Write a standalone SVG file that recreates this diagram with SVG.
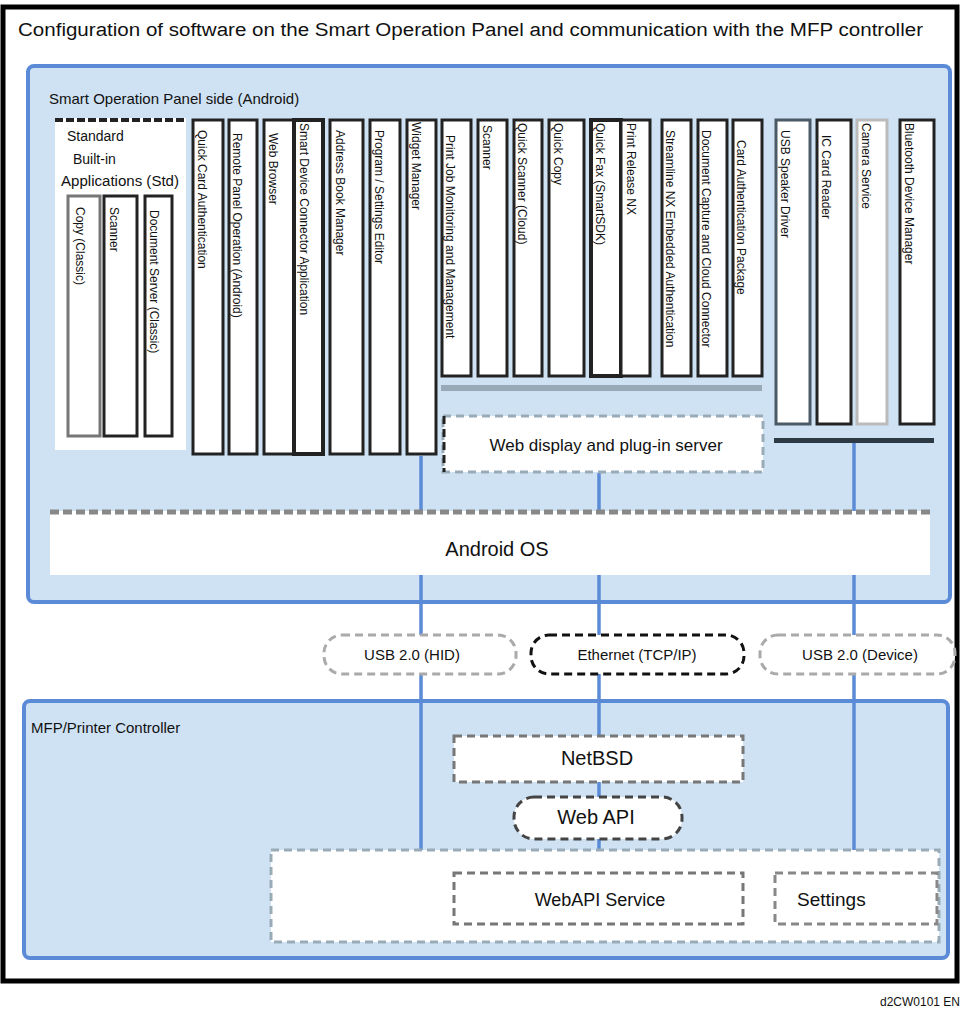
<svg xmlns="http://www.w3.org/2000/svg" width="963" height="1010" viewBox="0 0 963 1010">
<style>
text{font-family:"Liberation Sans",Arial,sans-serif;fill:#111}
.cont{fill:#cfe2f3;stroke:#5b8bd6;stroke-width:4}
.col{fill:#fff;stroke:#222;stroke-width:3}
.vt{font-size:12px}
.dash{fill:#fff;stroke-width:3;stroke-dasharray:8 5}
.conn{stroke:#5b8bd6;stroke-width:3.5;fill:none}
.lbl{font-size:15px;text-anchor:middle}
.big{font-size:20px;text-anchor:middle}
</style>
<rect x="0" y="0" width="963" height="1010" fill="#fff"/>
<rect x="3" y="7" width="954" height="974" fill="#fff" stroke="#000" stroke-width="5"/>
<text x="18" y="36" font-size="18" textLength="905" lengthAdjust="spacingAndGlyphs">Configuration of software on the Smart Operation Panel and communication with the MFP controller</text>

<g id="panel"><rect class="cont" x="28" y="66" width="922" height="536" rx="6"/><text x="49" y="104" font-size="15">Smart Operation Panel side (Android)</text></g>
<g id="mfp"><rect class="cont" x="24" y="701" width="924" height="257" rx="6"/><text x="31" y="733" font-size="15">MFP/Printer Controller</text></g>

<g id="connectors">
<line class="conn" x1="421" y1="456" x2="421" y2="850"/>
<line class="conn" x1="599" y1="473" x2="599" y2="874"/>
<line class="conn" x1="854" y1="443" x2="854" y2="874" stroke="#7eaee3"/>
</g>

<g id="std-apps">
<rect x="55" y="118" width="131" height="332" fill="#fff"/>
<line x1="55" y1="120" x2="186" y2="120" stroke="#222" stroke-width="4" stroke-dasharray="8 3"/>
<text x="67" y="141" font-size="14">Standard</text>
<text x="73" y="164" font-size="14">Built-in</text>
<text x="61" y="186" font-size="14" textLength="118" lengthAdjust="spacingAndGlyphs">Applications (Std)</text>
<rect class="col" x="68" y="196" width="32" height="240" style="stroke:#777"/>
<rect class="col" x="104" y="196" width="33" height="240"/>
<rect class="col" x="145" y="196" width="27" height="240"/>
<text class="vt" transform="translate(76,207) rotate(90)">Copy (Classic)</text>
<text class="vt" transform="translate(110,207) rotate(90)">Scanner</text>
<text class="vt" transform="translate(150,210) rotate(90)">Document Server (Classic)</text>
</g>

<g id="apps-left">
<rect class="col" x="193" y="120" width="30" height="334"/><text class="vt" transform="translate(198,130) rotate(90)">Quick Card Authentication</text>
<rect class="col" x="229" y="120" width="28" height="334"/><text class="vt" transform="translate(233,133) rotate(90)">Remote Panel Operation (Android)</text>
<rect class="col" x="264" y="120" width="30" height="334"/><text class="vt" transform="translate(269,133) rotate(90)">Web Browser</text>
<rect class="col" x="294" y="120" width="29" height="334" style="stroke-width:4"/><text class="vt" transform="translate(300,123) rotate(90)">Smart Device Connector Application</text>
<rect class="col" x="330" y="120" width="33" height="334"/><text class="vt" transform="translate(336,130) rotate(90)">Address Book Manager</text>
<rect class="col" x="370" y="120" width="30" height="334"/><text class="vt" transform="translate(375,130) rotate(90)">Program / Settings Editor</text>
<rect class="col" x="407" y="120" width="29" height="334"/><text class="vt" transform="translate(412,122) rotate(90)">Widget Manager</text>
</g>

<g id="apps-mid">
<rect class="col" x="442" y="120" width="29" height="256"/><text class="vt" transform="translate(446,135) rotate(90)">Print Job Monitoring and Management</text>
<rect class="col" x="478" y="120" width="29" height="256"/><text class="vt" transform="translate(483,125) rotate(90)">Scanner</text>
<rect class="col" x="514" y="120" width="28" height="256"/><text class="vt" transform="translate(518,123) rotate(90)">Quick Scanner (Cloud)</text>
<rect class="col" x="549" y="120" width="35" height="256"/><text class="vt" transform="translate(554,123) rotate(90)">Quick Copy</text>
<rect class="col" x="591" y="120" width="30" height="256" style="stroke-width:4"/><text class="vt" transform="translate(596,123) rotate(90)">Quick Fax (SmartSDK)</text>
<rect class="col" x="621" y="120" width="29" height="256"/><text class="vt" transform="translate(627,123) rotate(90)">Print Release NX</text>
<rect class="col" x="662" y="120" width="29" height="256"/><text class="vt" transform="translate(666,130) rotate(90)">Streamline NX Embedded Authentication</text>
<rect class="col" x="698" y="120" width="29" height="256"/><text class="vt" transform="translate(702,130) rotate(90)">Document Capture and Cloud Connector</text>
<rect class="col" x="733" y="120" width="29" height="256"/><text class="vt" transform="translate(737,140) rotate(90)">Card Authentication Package</text>
<rect x="441" y="385" width="321" height="6" fill="#98aab8"/>
</g>

<g id="apps-right">
<rect class="col" x="776" y="120" width="34" height="304" style="stroke:#4a5a66"/><text class="vt" transform="translate(781,130) rotate(90)">USB Speaker Driver</text>
<rect class="col" x="817" y="120" width="34" height="304"/><text class="vt" transform="translate(822,135) rotate(90)">IC Card Reader</text>
<rect class="col" x="857" y="120" width="30" height="304" style="stroke:#bbb"/><text class="vt" transform="translate(862,123) rotate(90)">Camera Service</text>
<rect class="col" x="900" y="120" width="34" height="304"/><text class="vt" transform="translate(905,123) rotate(90)">Bluetooth Device Manager</text>
<rect x="774" y="438" width="160" height="5" fill="#2d3a44"/>
</g>

<g id="web-layer"><rect class="dash" x="443" y="416" width="320" height="56" stroke="#9aabb8"/><line x1="444" y1="416" x2="444" y2="472" stroke="#222" stroke-width="3" stroke-dasharray="8 5"/><text x="606" y="451" font-size="17" text-anchor="middle">Web display and plug-in server</text></g>

<g id="android"><rect x="50" y="511" width="880" height="64" fill="#fff"/><line x1="50" y1="512" x2="930" y2="512" stroke="#888" stroke-width="5" stroke-dasharray="9 4"/><text class="big" x="497" y="556" font-size="24">Android OS</text></g>

<g id="if-usb"><rect class="dash" x="324" y="635" width="192" height="39" rx="18" stroke="#aaa"/><text class="lbl" x="412" y="660">USB 2.0 (HID)</text></g>
<g id="if-eth"><rect class="dash" x="531" y="635" width="213" height="39" rx="18" stroke="#111"/><text class="lbl" x="637" y="660" font-size="16">Ethernet (TCP/IP)</text></g>
<g id="if-usb2"><rect class="dash" x="760" y="635" width="195" height="39" rx="18" stroke="#aaa"/><text class="lbl" x="860" y="660">USB 2.0 (Device)</text></g>

<g id="netbsd"><rect class="dash" x="454" y="736" width="289" height="46" stroke="#777"/><text class="big" x="597" y="765">NetBSD</text></g>
<g id="webapi"><rect class="dash" x="514" y="797" width="168" height="42" rx="20" stroke="#444"/><text class="big" x="596" y="824">Web API</text></g>
<g id="services"><rect class="dash" x="271" y="850" width="668" height="92" stroke="#9aabb8"/></g>
<g id="webapi-service"><rect class="dash" x="454" y="873" width="289" height="51" stroke="#777"/><text x="600" y="906" font-size="18" text-anchor="middle">WebAPI Service</text></g>
<g id="settings"><rect class="dash" x="775" y="873" width="162" height="51" stroke="#888"/><text x="797" y="906" font-size="19">Settings</text></g>

<text x="960" y="1006" font-size="12" text-anchor="end" fill="#333">d2CW0101 EN</text>
</svg>
